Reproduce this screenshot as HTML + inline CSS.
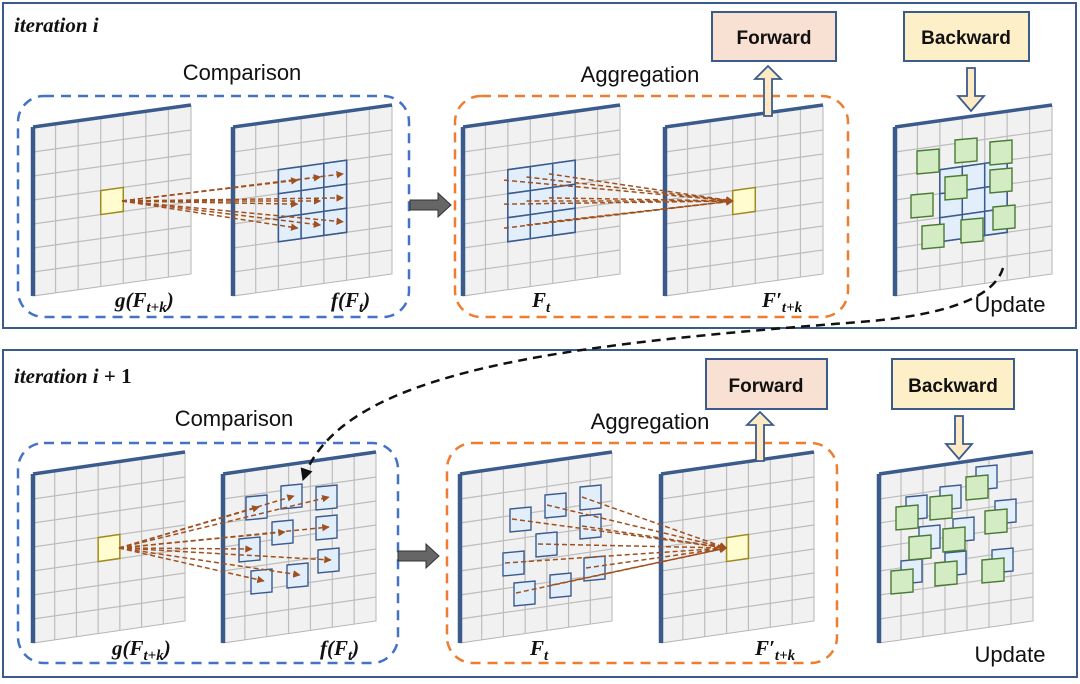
<!DOCTYPE html>
<html><head><meta charset="utf-8"><style>
html,body{margin:0;padding:0;background:#fff;}
svg{display:block;}
.lbl{font-family:"Liberation Sans",sans-serif;font-size:22px;fill:#111;}
.box{font-family:"Liberation Sans",sans-serif;font-size:19px;font-weight:bold;fill:#111;}
.m{font-family:"Liberation Serif",serif;font-weight:bold;font-style:italic;fill:#111;}
</style></head><body>
<svg id="s" width="1080" height="684" viewBox="0 0 1080 684" xmlns="http://www.w3.org/2000/svg">
<defs>
<marker id="ab" viewBox="0 0 10 10" refX="9" refY="5" markerWidth="5" markerHeight="5" orient="auto"><path d="M0,0L10,5L0,10z" fill="#a0501e"/></marker>
<marker id="ak" viewBox="0 0 10 10" refX="9" refY="5" markerWidth="5" markerHeight="5" orient="auto"><path d="M0,0L10,5L0,10z" fill="#111"/></marker>
</defs>
<rect x="3" y="3" width="1073" height="325" fill="none" stroke="#3b5b8c" stroke-width="2"/>
<rect x="3" y="350" width="1074" height="327" fill="none" stroke="#3b5b8c" stroke-width="2"/>
<g id="planes"></g>
<rect x="18" y="96" width="391" height="221" rx="26" fill="none" stroke="#4472c4" stroke-width="2.5" stroke-dasharray="10,7"/>
<rect x="455" y="96" width="393" height="221" rx="26" fill="none" stroke="#ed7d31" stroke-width="2.5" stroke-dasharray="10,7"/>
<rect x="18" y="443" width="380" height="220" rx="26" fill="none" stroke="#4472c4" stroke-width="2.5" stroke-dasharray="10,7"/>
<rect x="447" y="443" width="390" height="220" rx="26" fill="none" stroke="#ed7d31" stroke-width="2.5" stroke-dasharray="10,7"/>
<path d="M410,200h28v-7l13,12l-13,12v-7h-28z" fill="#666" stroke="#333" stroke-width="1"/>
<path d="M398,551h28v-7l13,12l-13,12v-7h-28z" fill="#666" stroke="#333" stroke-width="1"/>
<rect x="712" y="12" width="124" height="49" fill="#f8e0d3" stroke="#3b5b8c" stroke-width="2"/>
<text class="box" x="774" y="44" text-anchor="middle">Forward</text>
<rect x="904" y="12" width="125" height="49" fill="#fdefc8" stroke="#3b5b8c" stroke-width="2"/>
<text class="box" x="966" y="44" text-anchor="middle">Backward</text>
<rect x="706" y="359" width="121" height="50" fill="#f8e0d3" stroke="#3b5b8c" stroke-width="2"/>
<text class="box" x="766" y="392" text-anchor="middle">Forward</text>
<rect x="892" y="359" width="122" height="50" fill="#fdefc8" stroke="#3b5b8c" stroke-width="2"/>
<text class="box" x="953" y="392" text-anchor="middle">Backward</text>
<path d="M764,116v-37h-9l13,-13l13,13h-9v37z" fill="#fde9c4" stroke="#3b5b8c" stroke-width="1.8"/>
<path d="M967,68v28h-9l13,15l13,-15h-9v-28z" fill="#fde9c4" stroke="#3b5b8c" stroke-width="1.8"/>
<path d="M756,461v-36h-9l13,-13l13,13h-9v36z" fill="#fde9c4" stroke="#3b5b8c" stroke-width="1.8"/>
<path d="M955,416v28h-9l13,15l13,-15h-9v-28z" fill="#fde9c4" stroke="#3b5b8c" stroke-width="1.8"/>
<text class="m" x="14" y="32" font-size="21">iteration i</text>
<text class="m" x="14" y="383" font-size="21">iteration <tspan>i</tspan> <tspan font-style="normal">+ 1</tspan></text>
<text class="lbl" x="242" y="80" text-anchor="middle">Comparison</text>
<text class="lbl" x="640" y="82" text-anchor="middle">Aggregation</text>
<text class="lbl" x="234" y="426" text-anchor="middle">Comparison</text>
<text class="lbl" x="650" y="429" text-anchor="middle">Aggregation</text>
<text class="lbl" x="1010" y="312" text-anchor="middle" font-size="23">Update</text>
<text class="lbl" x="1010" y="662" text-anchor="middle" font-size="23">Update</text>
<text class="m" x="115" y="307" font-size="21">g(F<tspan font-size="15" dy="5">t+k</tspan><tspan dy="-5">)</tspan></text>
<text class="m" x="331" y="307" font-size="21">f(F<tspan font-size="15" dy="5">t</tspan><tspan dy="-5">)</tspan></text>
<text class="m" x="532" y="307" font-size="21">F<tspan font-size="15" dy="5">t</tspan></text>
<text class="m" x="762" y="307" font-size="21">F′<tspan font-size="15" dy="5">t+k</tspan></text>
<text class="m" x="112" y="655" font-size="21">g(F<tspan font-size="15" dy="5">t+k</tspan><tspan dy="-5">)</tspan></text>
<text class="m" x="320" y="655" font-size="21">f(F<tspan font-size="15" dy="5">t</tspan><tspan dy="-5">)</tspan></text>
<text class="m" x="530" y="655" font-size="21">F<tspan font-size="15" dy="5">t</tspan></text>
<text class="m" x="755" y="655" font-size="21">F′<tspan font-size="15" dy="5">t+k</tspan></text>
<g id="over"></g>
<path d="M1003,268 Q990,312 860,322 C560,345 340,370 303,480" fill="none" stroke="#111" stroke-width="2.5" stroke-dasharray="9,6" marker-end="url(#ak)"/>
</svg>
<script>
var NS="http://www.w3.org/2000/svg",P=document.getElementById('planes'),O=document.getElementById('over');
function el(t,a,par){var e=document.createElementNS(NS,t);for(var k in a)e.setAttribute(k,a[k]);(par||P).appendChild(e);return e;}
function plane(x0,y0,w,h,sk){
 function pt(u,v){return [x0+u*w,y0-u*sk+v*h];}
 var c=[pt(0,0),pt(1,0),pt(1,1),pt(0,1)];
 el('polygon',{points:c.map(p=>p.join(',')).join(' '),fill:'#f1f1f1',stroke:'#b5b5b5','stroke-width':1});
 for(var i=1;i<7;i++){var a=pt(i/7,0),b=pt(i/7,1);el('line',{x1:a[0],y1:a[1],x2:b[0],y2:b[1],stroke:'#bdbdbd','stroke-width':1.2});
  a=pt(0,i/7);b=pt(1,i/7);el('line',{x1:a[0],y1:a[1],x2:b[0],y2:b[1],stroke:'#bdbdbd','stroke-width':1.2});}
 el('line',{x1:c[0][0],y1:c[0][1]-1,x2:c[1][0],y2:c[1][1]-1,stroke:'#3b5b8c','stroke-width':3.5});
 el('line',{x1:c[0][0],y1:c[0][1]-1,x2:c[3][0],y2:c[3][1],stroke:'#3b5b8c','stroke-width':4.5});
 return {pt:pt,cell:function(ci,ri,fill,st,n){n=n||1;var p=[pt(ci/7,ri/7),pt((ci+n)/7,ri/7),pt((ci+n)/7,(ri+n)/7),pt(ci/7,(ri+n)/7)];
   el('polygon',{points:p.map(q=>q.join(',')).join(' '),fill:fill,stroke:st,'stroke-width':1.5});
   return [(p[0][0]+p[2][0])/2,(p[0][1]+p[2][1])/2];}};
}
function block(pl,c0,r0){var cs=[];pl.cell(c0,r0,'#e3eefb','#3b5b8c',3);
 for(var i=0;i<3;i++)for(var j=0;j<3;j++)cs.push(pl.cell(c0+i,r0+j,'#e3eefb','#3b5b8c'));return cs;}
function sq(x,y,fill,par,w,h){el('polygon',{points:[x,y+2,x+w,y,x+w,y+h-2,x,y+h].join(' '),fill:fill,stroke:fill=='#d3ecc3'?'#4a7a35':'#3b5b8c','stroke-width':1.4},par);}
function arr(x1,y1,x2,y2,par){el('line',{x1:x1,y1:y1,x2:x2,y2:y2,stroke:'#a0501e','stroke-width':1.5,'stroke-dasharray':'5,3','marker-end':'url(#ab)'},par||O);}
var A=plane(33,128,158,168,22),B=plane(233,128,159,168,22),C=plane(463,128,157,168,22),D=plane(665,128,158,168,22),E=plane(895,128,157,168,22);
var y1=A.cell(3,3,'#fffcd0','#a08a20');
var bc=block(B,2,2);bc.forEach(p=>arr(y1[0]+10,y1[1],p[0]+8,p[1]));
var cc=block(C,2,2);var y2=D.cell(3,3,'#fffcd0','#a08a20');cc.forEach(p=>arr(p[0]-15,p[1],y2[0]-11,y2[1]));
block(E,2,2);
[[928,161],[966,150],[1001,152],[922,205],[956,187],[1001,180],[933,236],[972,230],[1004,217]].forEach(p=>sq(p[0]-11,p[1]-12,'#d3ecc3',O,22,25));
var A2=plane(33,475,152,168,22),B2=plane(223,475,153,168,22),C2=plane(460,475,152,168,22),D2=plane(661,475,153,168,22),E2=plane(879,475,154,168,22);
var y3=A2.cell(3,3,'#fffcd0','#a08a20');
var bs=[[256,507],[291,496],[326,497],[282,532],[326,527],[249,549],[328,560],[261,581],[297,575]];
bs.forEach(p=>sq(p[0]-10,p[1]-12,'#e3eefb',P,21,25));bs.forEach(p=>arr(y3[0]+10,y3[1],p[0]+3,p[1]));
var cs=[[520,519],[555,505],[590,497],[546,544],[590,526],[513,563],[594,568],[524,593],[560,585]];
cs.forEach(p=>sq(p[0]-10,p[1]-12,'#e3eefb',P,21,25));
var y4=D2.cell(3,3,'#fffcd0','#a08a20');cs.forEach(p=>arr(p[0]-8,p[1],y4[0]-11,y4[1]));
var gs=[[907,517],[941,507],[977,487],[920,547],[954,539],[996,521],[902,581],[946,573],[993,570]];
gs.forEach(p=>sq(p[0]-1,p[1]-22,'#e3eefb',O,21,25));
gs.forEach(p=>sq(p[0]-11,p[1]-12,'#d3ecc3',O,22,25));
</script>
</body></html>
